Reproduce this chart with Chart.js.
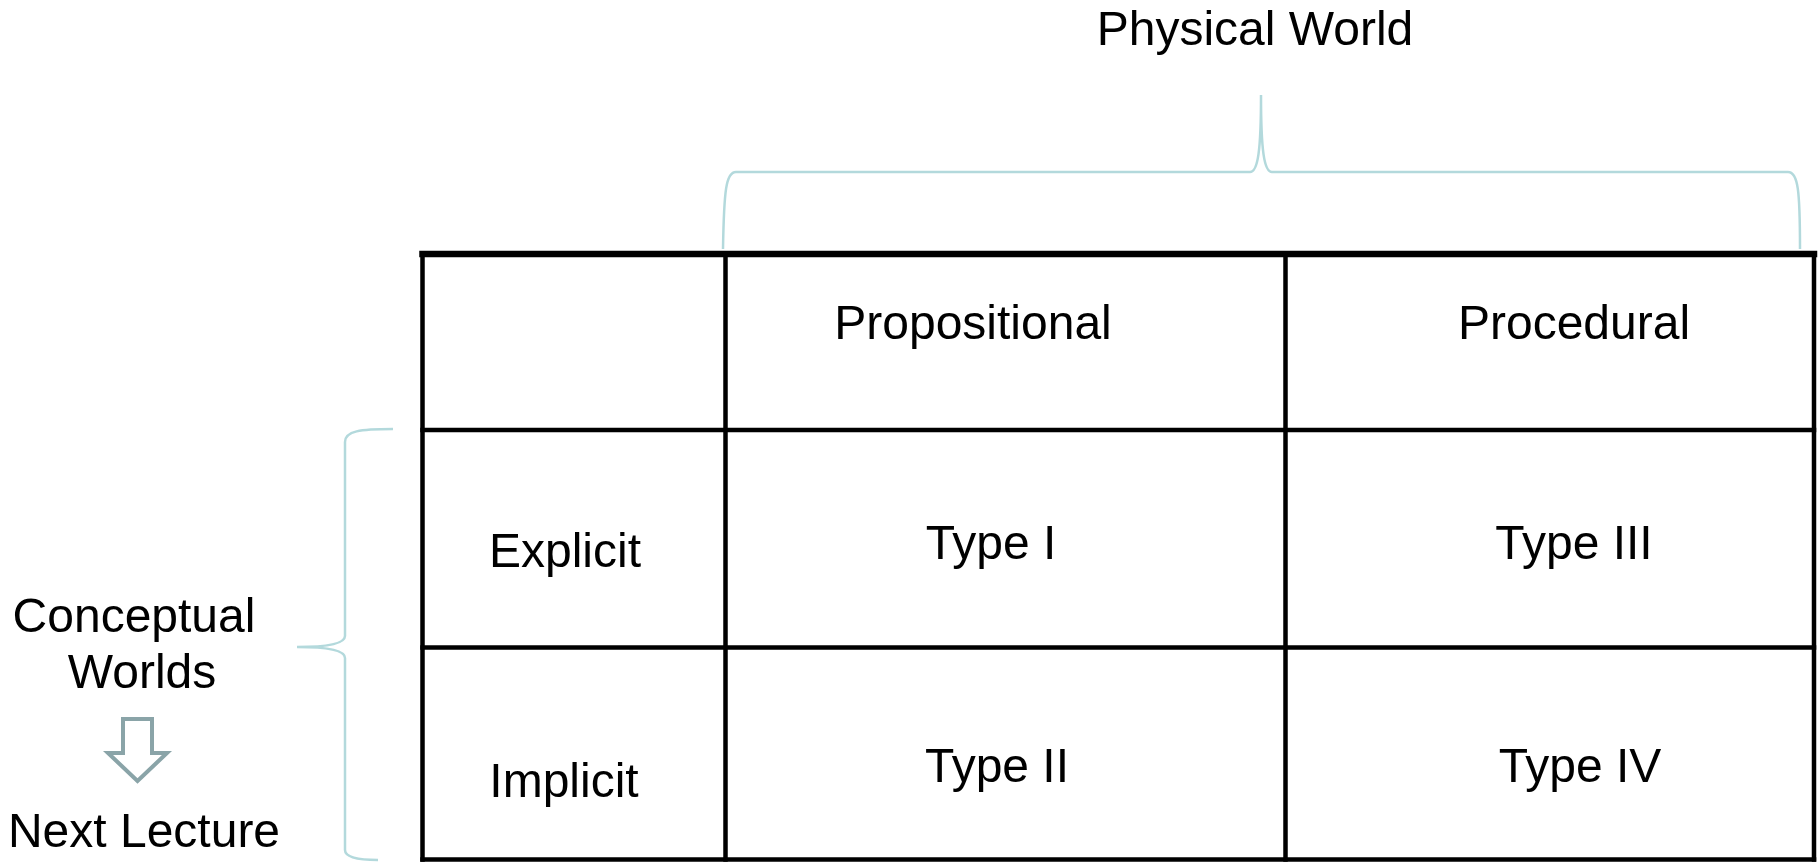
<!DOCTYPE html>
<html>
<head>
<meta charset="utf-8">
<title>Knowledge types</title>
<script src="https://cdn.jsdelivr.net/npm/chart.js@4/dist/chart.umd.min.js"></script>
<style>
  html, body { margin: 0; padding: 0; background: #fff; }
  #wrap { width: 1818px; height: 862px; position: relative; }
</style>
</head>
<body>
<div id="wrap"><canvas id="diagram"></canvas></div>
<script>
// texts of the diagram
const topTitle = 'Physical World'
const sideTitle = ['Conceptual', 'Worlds']
const sideNote = 'Next Lecture'
const columns = ['Propositional', 'Procedural']
const rows = ['Explicit', 'Implicit']
const cells = [
    ['Type I', 'Type III'],
    ['Type II', 'Type IV']
]

// layout, in the units of the (hidden) x / y scales
const layout = {
    colEdges: [422.5, 725.5, 1285.5, 1814],
    rowEdges: [254, 430, 647.5, 859.5],
    headX: [973, 1574],
    headY: 339,
    rowX: [565, 564],
    rowY: [567, 797],
    cellX: [[991, 1574], [997, 1580]],
    cellY: [559, 782],
    titleX: 1255, titleY: 45,
    sideX: [134, 142], sideY: [632, 688],
    noteX: 144, noteY: 847
}

const font = '48px "Liberation Sans", Arial, sans-serif'
const braceColor = '#b3d9dc'
const arrowColor = '#8aa4a8'

let tableLines = []
layout.colEdges.forEach(function (x) {
    tableLines.push({
        data: [{x: x, y: layout.rowEdges[0]}, {x: x, y: layout.rowEdges[3]}],
        borderWidth: 4.5
    })
})
layout.rowEdges.forEach(function (y, i) {
    tableLines.push({
        data: [{x: layout.colEdges[0], y: y}, {x: layout.colEdges[3], y: y}],
        borderWidth: i == 0 ? 6.5 : 4.5
    })
})

let datasets = tableLines.map(function (l) {
    return {
        data: l.data,
        showLine: true,
        borderColor: '#000',
        borderWidth: l.borderWidth,
        borderCapStyle: 'square',
        pointRadius: 0,
        fill: false
    }
})

const extras = {
    id: 'extras',
    afterDatasetsDraw(chart) {
        let ctx = chart.ctx
        let sx = chart.scales.x, sy = chart.scales.y
        let px = v => sx.getPixelForValue(v)
        let py = v => sy.getPixelForValue(v)

        ctx.save()
        ctx.fillStyle = '#000'
        ctx.font = font
        ctx.textAlign = 'center'
        ctx.textBaseline = 'alphabetic'

        ctx.fillText(topTitle, px(layout.titleX), py(layout.titleY))
        columns.forEach((c, i) => ctx.fillText(c, px(layout.headX[i]), py(layout.headY)))
        rows.forEach((r, i) => ctx.fillText(r, px(layout.rowX[i]), py(layout.rowY[i])))
        cells.forEach((row, i) => {
            row.forEach((c, j) => ctx.fillText(c, px(layout.cellX[i][j]), py(layout.cellY[i])))
        })
        sideTitle.forEach((t, i) => ctx.fillText(t, px(layout.sideX[i]), py(layout.sideY[i])))
        ctx.fillText(sideNote, px(layout.noteX), py(layout.noteY))

        // top brace
        ctx.strokeStyle = braceColor
        ctx.lineWidth = 2.5
        ctx.beginPath()
        ctx.moveTo(px(723), py(249))
        ctx.bezierCurveTo(px(724), py(190), px(726), py(172), px(736), py(172))
        ctx.lineTo(px(1250), py(172))
        ctx.bezierCurveTo(px(1258), py(172), px(1261), py(150), px(1261), py(95))
        ctx.bezierCurveTo(px(1261), py(150), px(1264), py(172), px(1272), py(172))
        ctx.lineTo(px(1788), py(172))
        ctx.bezierCurveTo(px(1798), py(172), px(1800), py(190), px(1800), py(249))
        ctx.stroke()

        // left brace
        ctx.beginPath()
        ctx.moveTo(px(393), py(429))
        ctx.bezierCurveTo(px(360), py(429), px(345), py(431), px(345), py(442))
        ctx.lineTo(px(345), py(636))
        ctx.bezierCurveTo(px(345), py(645), px(320), py(647), px(297), py(647))
        ctx.bezierCurveTo(px(320), py(647), px(345), py(649), px(345), py(658))
        ctx.lineTo(px(345), py(850))
        ctx.bezierCurveTo(px(345), py(858), px(360), py(860), px(378), py(860))
        ctx.stroke()

        // hollow down arrow
        ctx.strokeStyle = arrowColor
        ctx.lineWidth = 4
        ctx.lineJoin = 'miter'
        ctx.beginPath()
        ctx.moveTo(px(123), py(719))
        ctx.lineTo(px(152), py(719))
        ctx.lineTo(px(152), py(753))
        ctx.lineTo(px(167), py(753))
        ctx.lineTo(px(137.5), py(781))
        ctx.lineTo(px(108), py(753))
        ctx.lineTo(px(123), py(753))
        ctx.closePath()
        ctx.stroke()
        ctx.restore()
    }
}

new Chart(document.getElementById('diagram').getContext('2d'), {
    type: 'scatter',
    data: { datasets: datasets },
    options: {
        responsive: true,
        maintainAspectRatio: false,
        animation: false,
        layout: { padding: 0 },
        plugins: {
            legend: { display: false },
            tooltip: { enabled: false }
        },
        scales: {
            x: { type: 'linear', min: 0, max: 1818, display: false },
            y: { type: 'linear', min: 0, max: 862, reverse: true, display: false }
        }
    },
    plugins: [extras]
})
</script>
</body>
</html>
